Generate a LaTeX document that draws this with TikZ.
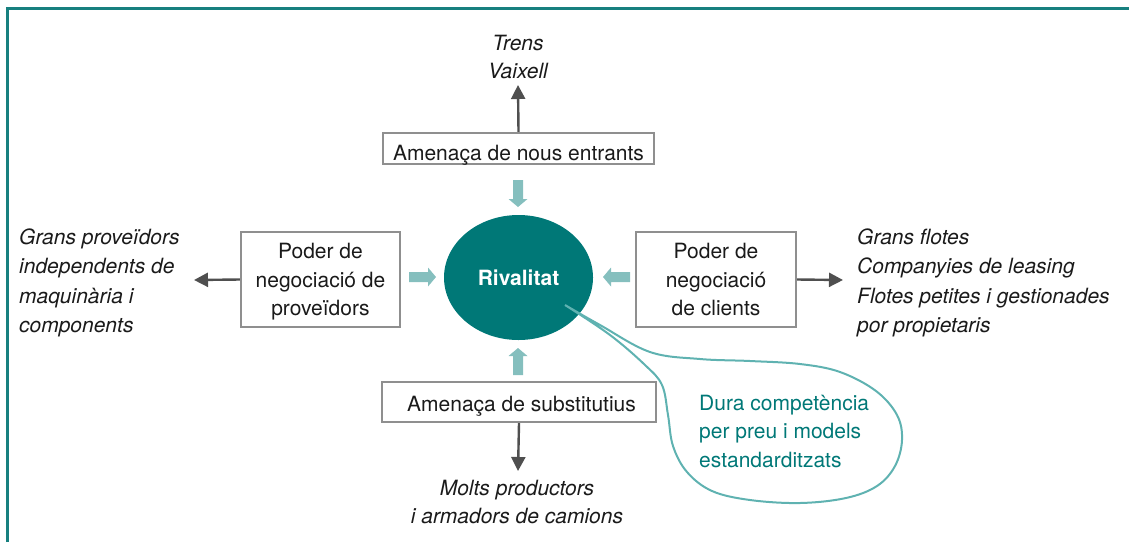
\documentclass[tikz,border=0pt]{standalone}
\usepackage{fontspec}
\setmainfont{TeX Gyre Heros}
\usetikzlibrary{shapes.geometric,arrows.meta}
\definecolor{frameteal}{HTML}{17807F}
\definecolor{coreteal}{HTML}{007877}
\definecolor{paleteal}{HTML}{85BFBE}
\definecolor{bubbleteal}{HTML}{5FB2B1}
\definecolor{boxgray}{HTML}{8F8F8F}
\definecolor{arrowgray}{HTML}{4F4F4F}
\definecolor{inkblack}{HTML}{1A1A1A}

\begin{document}
\begin{tikzpicture}[x=1pt,y=-1pt,
  txt/.style={font=\fontsize{21pt}{28.5pt}\selectfont, text=inkblack, inner sep=0pt},
  forcebox/.style={txt, draw=boxgray, line width=2.4pt, fill=white, align=center, text depth=0pt},
  note/.style={txt, font=\fontsize{21pt}{28.5pt}\selectfont\itshape},
  listnote/.style={txt, font=\fontsize{21pt}{29.3pt}\selectfont\itshape, align=left, anchor=west},
  outarrow/.style={draw=arrowgray, line width=2.4pt, -{Triangle[width=14pt,length=14pt]}},
  bubble/.style={draw=bubbleteal, line width=2pt, line join=round},
  inflow/.pic={\fill[paleteal] (0,-5) -- (19,-5) -- (19,-9.5) -- (27,0) -- (19,9.5) -- (19,5) -- (0,5) -- cycle;}
]
\useasboundingbox (0,0) rectangle (1129,542);

% frame
\draw[frameteal, line width=3pt] (7.3,542) -- (7.3,8.5) -- (1129,8.5);

% five forces
\node[forcebox, minimum width=271pt, minimum height=31pt, text height=24pt] (entrants) at (518.5,148.5) {Amenaça de nous entrants};
\node[forcebox, minimum width=159pt, minimum height=95pt] (suppliers) at (320.5,279.5) {Poder de\\negociació de\\proveïdors};
\node[forcebox, minimum width=160pt, minimum height=95pt] (buyers) at (716,279.5) {Poder de\\negociació\\de clients};
\node[forcebox, minimum width=274pt, minimum height=40pt, text height=19pt] (substitutes) at (519,402) {\hspace*{5pt}Amenaça de substitutius};
\node[ellipse, fill=coreteal, minimum width=149pt, minimum height=125pt, inner sep=0pt,
      font=\fontsize{21pt}{25pt}\selectfont\bfseries, text=white] (rivalry) at (518.5,277.5) {Rivalitat};

% pressure arrows towards the rivalry
\pic[rotate=-90] at (518,180) {inflow};
\pic[rotate=90] at (518,375) {inflow};
\pic at (409,277) {inflow};
\pic[rotate=180] at (630,277) {inflow};

% examples for each force
\node[note, align=center] (newcomers) at (518,57) {Trens\\Vaixell};
\coordinate (newcomersTip) at (518,85);
\draw[outarrow] (entrants.north) -- (newcomersTip);

\node[listnote] (supplierList) at (19,283) {Grans proveïdors\\independents de\\maquinària i\\components};
\coordinate (supplierTip) at (194,280);
\draw[outarrow] (suppliers.west) -- (supplierTip);

\node[listnote] (buyerList) at (857,283) {Grans flotes\\Companyies de leasing\\Flotes petites i gestionades\\por propietaris};
\coordinate (buyerTip) at (843,280);
\draw[outarrow] (buyers.east) -- (buyerTip);

\node[note, align=center] (substList) at (517,502) {Molts productors\\i armadors de camions};
\coordinate (substTip) at (518,471);
\draw[outarrow] (substitutes.south) -- (substTip);

% speech bubble
\draw[bubble] plot[smooth, tension=0.6] coordinates {
  (565,305) (600,325) (650,352) (700,359) (750,361) (800,364) (840,372)
  (876,391) (897,415) (902,440) (895,466) (877,486) (846,498) (800,503)
  (750,500) (712,491) (687,472) (673,446) (668,415) (662,385) (645,365)
  (610,335) (565,305)};
\node[txt, text=coreteal, align=left, anchor=west] (verdict) at (699,431) {Dura competència\\per preu i models\\estandarditzats};
\end{tikzpicture}
\end{document}
